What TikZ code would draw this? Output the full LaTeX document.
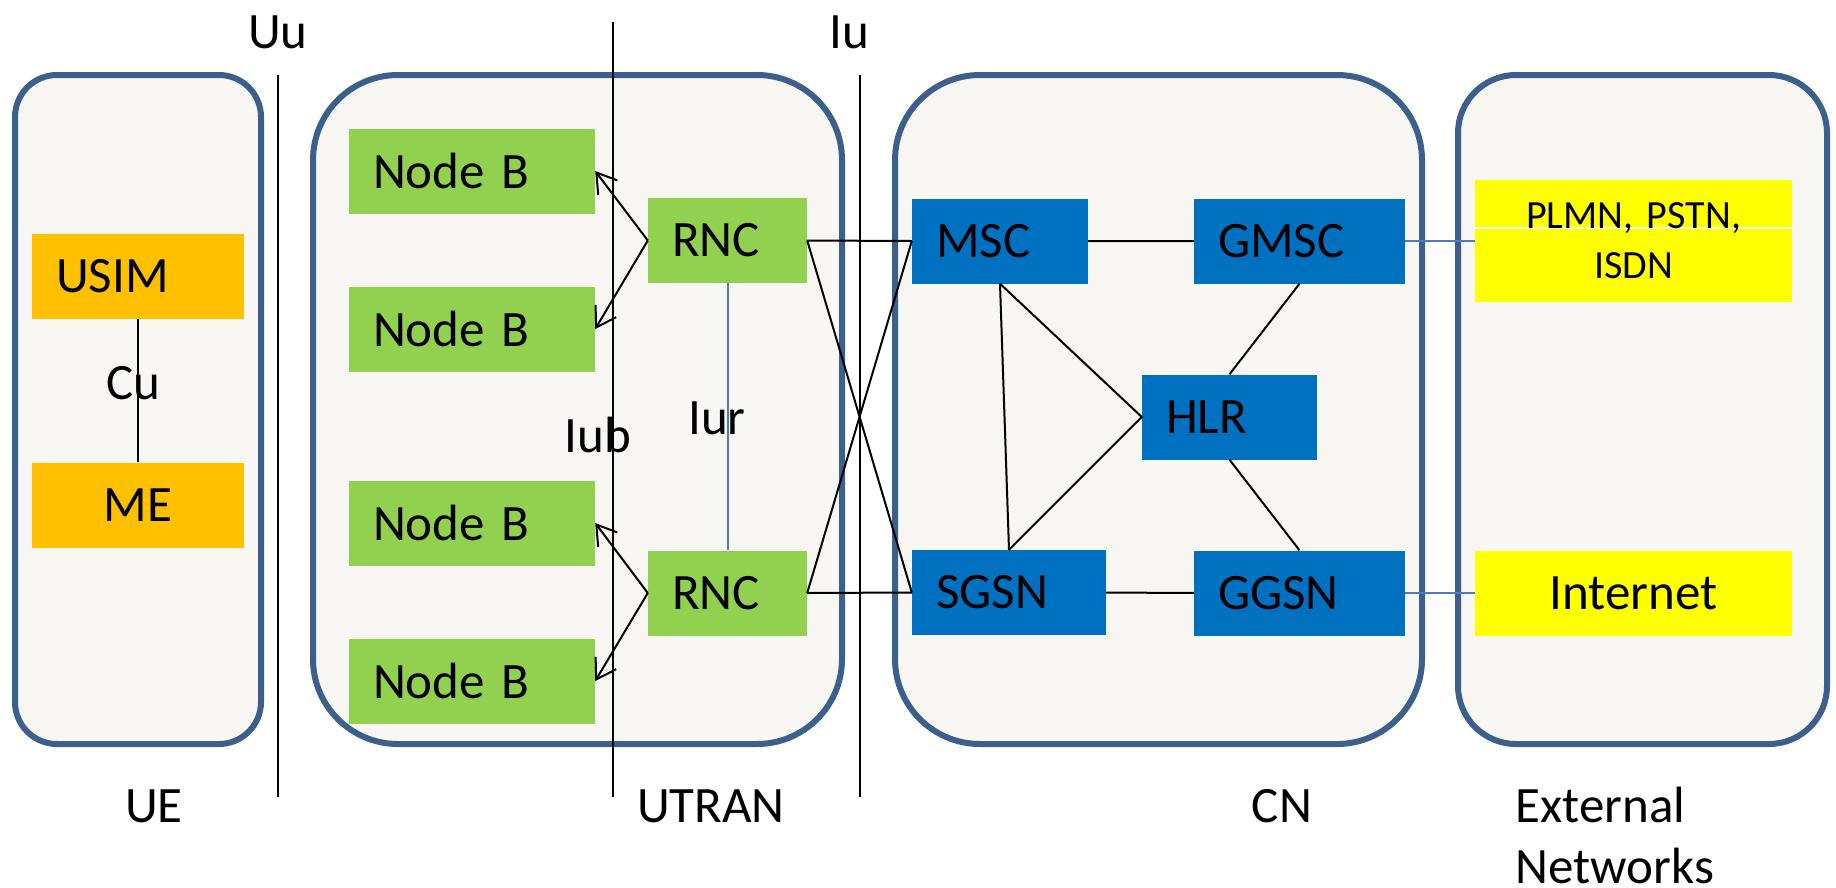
\documentclass[tikz,border=0pt]{standalone}
\usepackage{fontspec}
\setmainfont{Carlito}
\usetikzlibrary{arrows.meta,positioning}

\definecolor{frame}{HTML}{3C5F8C}
\definecolor{pane}{HTML}{F7F6F3}
\definecolor{uegold}{HTML}{FFC000}
\definecolor{rangreen}{HTML}{92D050}
\definecolor{coreblue}{HTML}{0070C0}
\definecolor{extyellow}{HTML}{FFFF00}
\definecolor{linkblue}{HTML}{4A7EBB}

\begin{document}
\begin{tikzpicture}[x=1pt,y=-1pt,font=\fontsize{51}{61}\selectfont,
  >={Straight Barb[length=19pt,width=24pt]},
  netbox/.style={draw=frame,line width=6pt,fill=pane,rounded corners=#1},
  elem/.style={fill=#1,inner xsep=24pt,inner ysep=0pt,minimum height=85pt,align=left},
  link/.style={line width=2pt},
  soft/.style={draw=linkblue,line width=2pt}]
  \useasboundingbox (0,0) rectangle (1836,887);
  % domains
  \draw[netbox=42pt] (15,75) rectangle (261,744);
  \draw[netbox=85pt] (313,75) rectangle (842,744);
  \draw[netbox=85pt] (895,75) rectangle (1422,744);
  \draw[netbox=58pt] (1458,75) rectangle (1827,744);
  % reference points
  \draw[link] (278,75) -- (278,797);
  \draw[link] (613,22) -- (613,797);
  \draw[link] (860,75) -- (860,797);
  \node[anchor=base] (uu) at (278,48) {Uu};
  \node[anchor=base] (iu) at (849,48) {Iu};
  \node[anchor=base] (iub) at (598,452) {Iub};
  \node[anchor=base] (iur) at (717,434) {Iur};
  % UE
  \node[elem=uegold,text width=164pt] (usim) at (138,276) {USIM};
  \node[elem=uegold,text width=164pt,align=center] (me) at (138,505) {ME};
  \draw[link] (usim) -- (me);
  \node[anchor=base] (cu) at (133,399) {Cu};
  % UTRAN
  \foreach \y/\n in {171/1,329/2,523/3,681/4}
    \node[elem=rangreen,text width=198pt] (nb\n) at (472,\y) {Node B};
  \node[elem=rangreen,text width=111pt] (rnc1) at (727.5,240.5) {RNC};
  \node[elem=rangreen,text width=111pt] (rnc2) at (727.5,593) {RNC};
  \draw[soft] (rnc1) -- (rnc2);
  \draw[link,->] (rnc1.west) -- (nb1.east);
  \draw[link,->] (rnc1.west) -- (nb2.east);
  \draw[link,->] (rnc2.west) -- (nb3.east);
  \draw[link,->] (rnc2.west) -- (nb4.east);
  % CN
  \node[elem=coreblue,text width=128pt] (msc) at (1000,241) {MSC};
  \node[elem=coreblue,text width=146pt] (sgsn) at (1009,592.5) {SGSN};
  \node[elem=coreblue,text width=163pt] (gmsc) at (1299.5,241) {GMSC};
  \node[elem=coreblue,text width=163pt] (ggsn) at (1299.5,593) {GGSN};
  \node[elem=coreblue,text width=127pt] (hlr) at (1229.5,417) {HLR};
  \draw[link] (rnc1.east) -- (msc.west) (rnc1.east) -- (sgsn.west)
              (rnc2.east) -- (msc.west) (rnc2.east) -- (sgsn.west);
  \draw[link] (msc) -- (gmsc) (sgsn) -- (ggsn);
  \draw[link] (msc.south) -- (sgsn.north);
  \draw[link] (msc.south) -- (hlr.west) -- (sgsn.north);
  \draw[link] (gmsc.south) -- (hlr.north) (hlr.south) -- (ggsn.north);
  % external networks
  \node[elem=extyellow,text width=269pt,align=center,minimum height=122pt,
        font=\fontsize{40}{50}\selectfont,
        path picture={\draw[white,line width=1.5pt]
          ([yshift=13pt]path picture bounding box.west) --
          ([yshift=13pt]path picture bounding box.east);}]
    (pstn) at (1633.5,241) {PLMN, PSTN,\\ISDN};
  \node[elem=extyellow,text width=269pt,align=center] (inet) at (1633.5,593) {Internet};
  \draw[soft] (gmsc) -- (pstn) (ggsn) -- (inet);
  % domain names
  \node[anchor=base] (ue) at (154,822) {UE};
  \node[anchor=base] (utran) at (711,822) {UTRAN};
  \node[anchor=base] (cn) at (1282,822) {CN};
  \node[anchor=base west,align=left] (extnet) at (1512,883) {External\\Networks};
\end{tikzpicture}
\end{document}
